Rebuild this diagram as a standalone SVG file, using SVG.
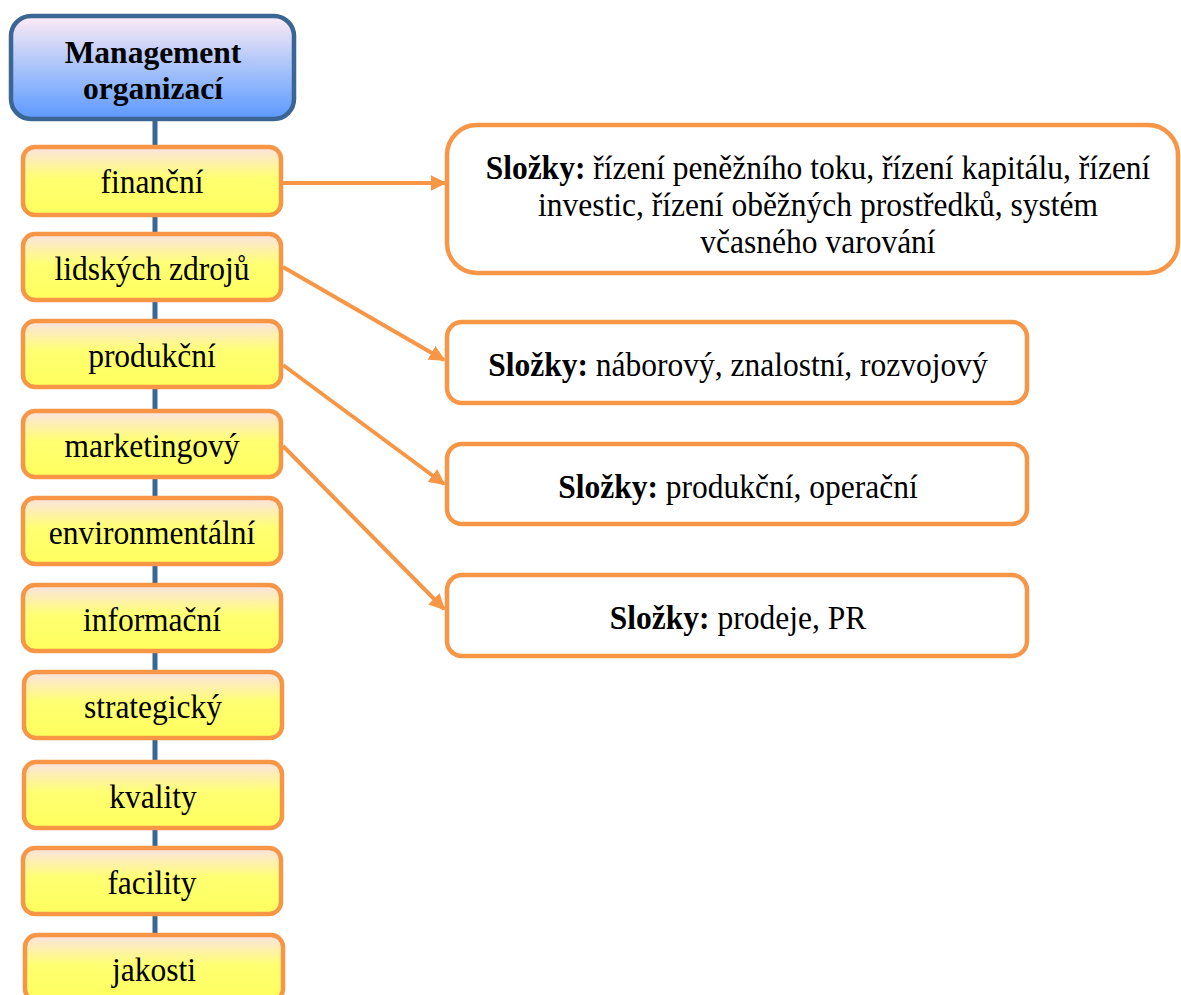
<svg xmlns="http://www.w3.org/2000/svg" width="1181" height="995" viewBox="0 0 1181 995">
  <defs>
    <linearGradient id="gradRoot" x1="0" y1="0" x2="0" y2="1">
      <stop offset="0" stop-color="#feebf5"/>
      <stop offset="0.5" stop-color="#a8c3fa"/>
      <stop offset="1" stop-color="#5c99ff"/>
    </linearGradient>
    <linearGradient id="gradItem" x1="0" y1="0" x2="0" y2="1">
      <stop offset="0" stop-color="#fbe2e6"/>
      <stop offset="0.45" stop-color="#ffff72"/>
      <stop offset="1" stop-color="#ffff5e"/>
    </linearGradient>
    <marker id="arrow" viewBox="0 0 10 10" refX="9" refY="5" markerWidth="4" markerHeight="4" orient="auto" markerUnits="strokeWidth">
      <path d="M0,0 L10,5 L0,10 z" fill="#f79646"/>
    </marker>
  </defs>
  <style>
    .root { fill: url(#gradRoot); stroke: #3a6595; stroke-width: 4.5; }
    .item { fill: url(#gradItem); stroke: #f79646; stroke-width: 4.5; }
    .detail { fill: #ffffff; stroke: #f79646; stroke-width: 4.5; }
    .spine { stroke: #3a6595; stroke-width: 5; fill: none; }
    .link { stroke: #f79646; stroke-width: 4; fill: none; marker-end: url(#arrow); }
    text { font-family: "Liberation Serif", "Times New Roman", serif; font-size: 31.5px; fill: #000000; text-anchor: middle;
           transform-box: fill-box; transform-origin: center; transform: scaleY(1.1); }
    text.title { font-weight: bold; transform: none; }
    .b { font-weight: bold; }
  </style>

  <rect width="1181" height="995" fill="#ffffff"/>

  <!-- vertical spine and arrows -->
  <g id="connectors">
    <line class="spine" x1="155" y1="118" x2="155" y2="940"/>
    <line class="link" x1="283" y1="183" x2="445" y2="183"/>
    <line class="link" x1="283" y1="267" x2="444" y2="360"/>
    <line class="link" x1="283" y1="365" x2="444" y2="484"/>
    <line class="link" x1="283" y1="446" x2="444" y2="609"/>
  </g>

  <g id="root">
    <rect class="root" x="11" y="16" width="283" height="103" rx="20"/>
    <text class="title" x="153" y="62.5">Management</text>
    <text class="title" x="153" y="98.5">organizací</text>
  </g>

  <g id="financni">
    <rect class="item" x="23" y="147" width="258" height="68" rx="12"/>
    <text x="152" y="192">finanční</text>
  </g>
  <g id="lidskych-zdroju">
    <rect class="item" x="23" y="234" width="258" height="66" rx="12"/>
    <text x="152" y="279">lidských zdrojů</text>
  </g>
  <g id="produkcni">
    <rect class="item" x="23" y="321" width="258" height="66" rx="12"/>
    <text x="152" y="366">produkční</text>
  </g>
  <g id="marketingovy">
    <rect class="item" x="23" y="411" width="258" height="66" rx="12"/>
    <text x="152" y="456">marketingový</text>
  </g>
  <g id="environmentalni">
    <rect class="item" x="23" y="498" width="258" height="66" rx="12"/>
    <text x="152" y="543">environmentální</text>
  </g>
  <g id="informacni">
    <rect class="item" x="23" y="585" width="258" height="66" rx="12"/>
    <text x="152" y="630">informační</text>
  </g>
  <g id="strategicky">
    <rect class="item" x="24" y="672" width="258" height="66" rx="12"/>
    <text x="153" y="717">strategický</text>
  </g>
  <g id="kvality">
    <rect class="item" x="24" y="762" width="258" height="66" rx="12"/>
    <text x="153" y="807">kvality</text>
  </g>
  <g id="facility">
    <rect class="item" x="23" y="848" width="258" height="66" rx="12"/>
    <text x="152" y="893">facility</text>
  </g>
  <g id="jakosti">
    <rect class="item" x="25" y="935" width="258" height="66" rx="12"/>
    <text x="154" y="980">jakosti</text>
  </g>

  <g id="slozky-financni">
    <rect class="detail" x="447" y="125" width="731" height="148" rx="30"/>
    <text x="818" y="178"><tspan class="b">Složky:</tspan> řízení peněžního toku, řízení kapitálu, řízení</text>
    <text x="818" y="215">investic, řízení oběžných prostředků, systém</text>
    <text x="818" y="252">včasného varování</text>
  </g>
  <g id="slozky-lidske-zdroje">
    <rect class="detail" x="447" y="322" width="580" height="81" rx="15"/>
    <text x="738" y="375"><tspan class="b">Složky:</tspan> náborový, znalostní, rozvojový</text>
  </g>
  <g id="slozky-produkce">
    <rect class="detail" x="447" y="444" width="580" height="80" rx="15"/>
    <text x="738" y="497"><tspan class="b">Složky:</tspan> produkční, operační</text>
  </g>
  <g id="slozky-marketing">
    <rect class="detail" x="447" y="575" width="580" height="81" rx="15"/>
    <text x="738" y="628"><tspan class="b">Složky:</tspan> prodeje, PR</text>
  </g>
</svg>
